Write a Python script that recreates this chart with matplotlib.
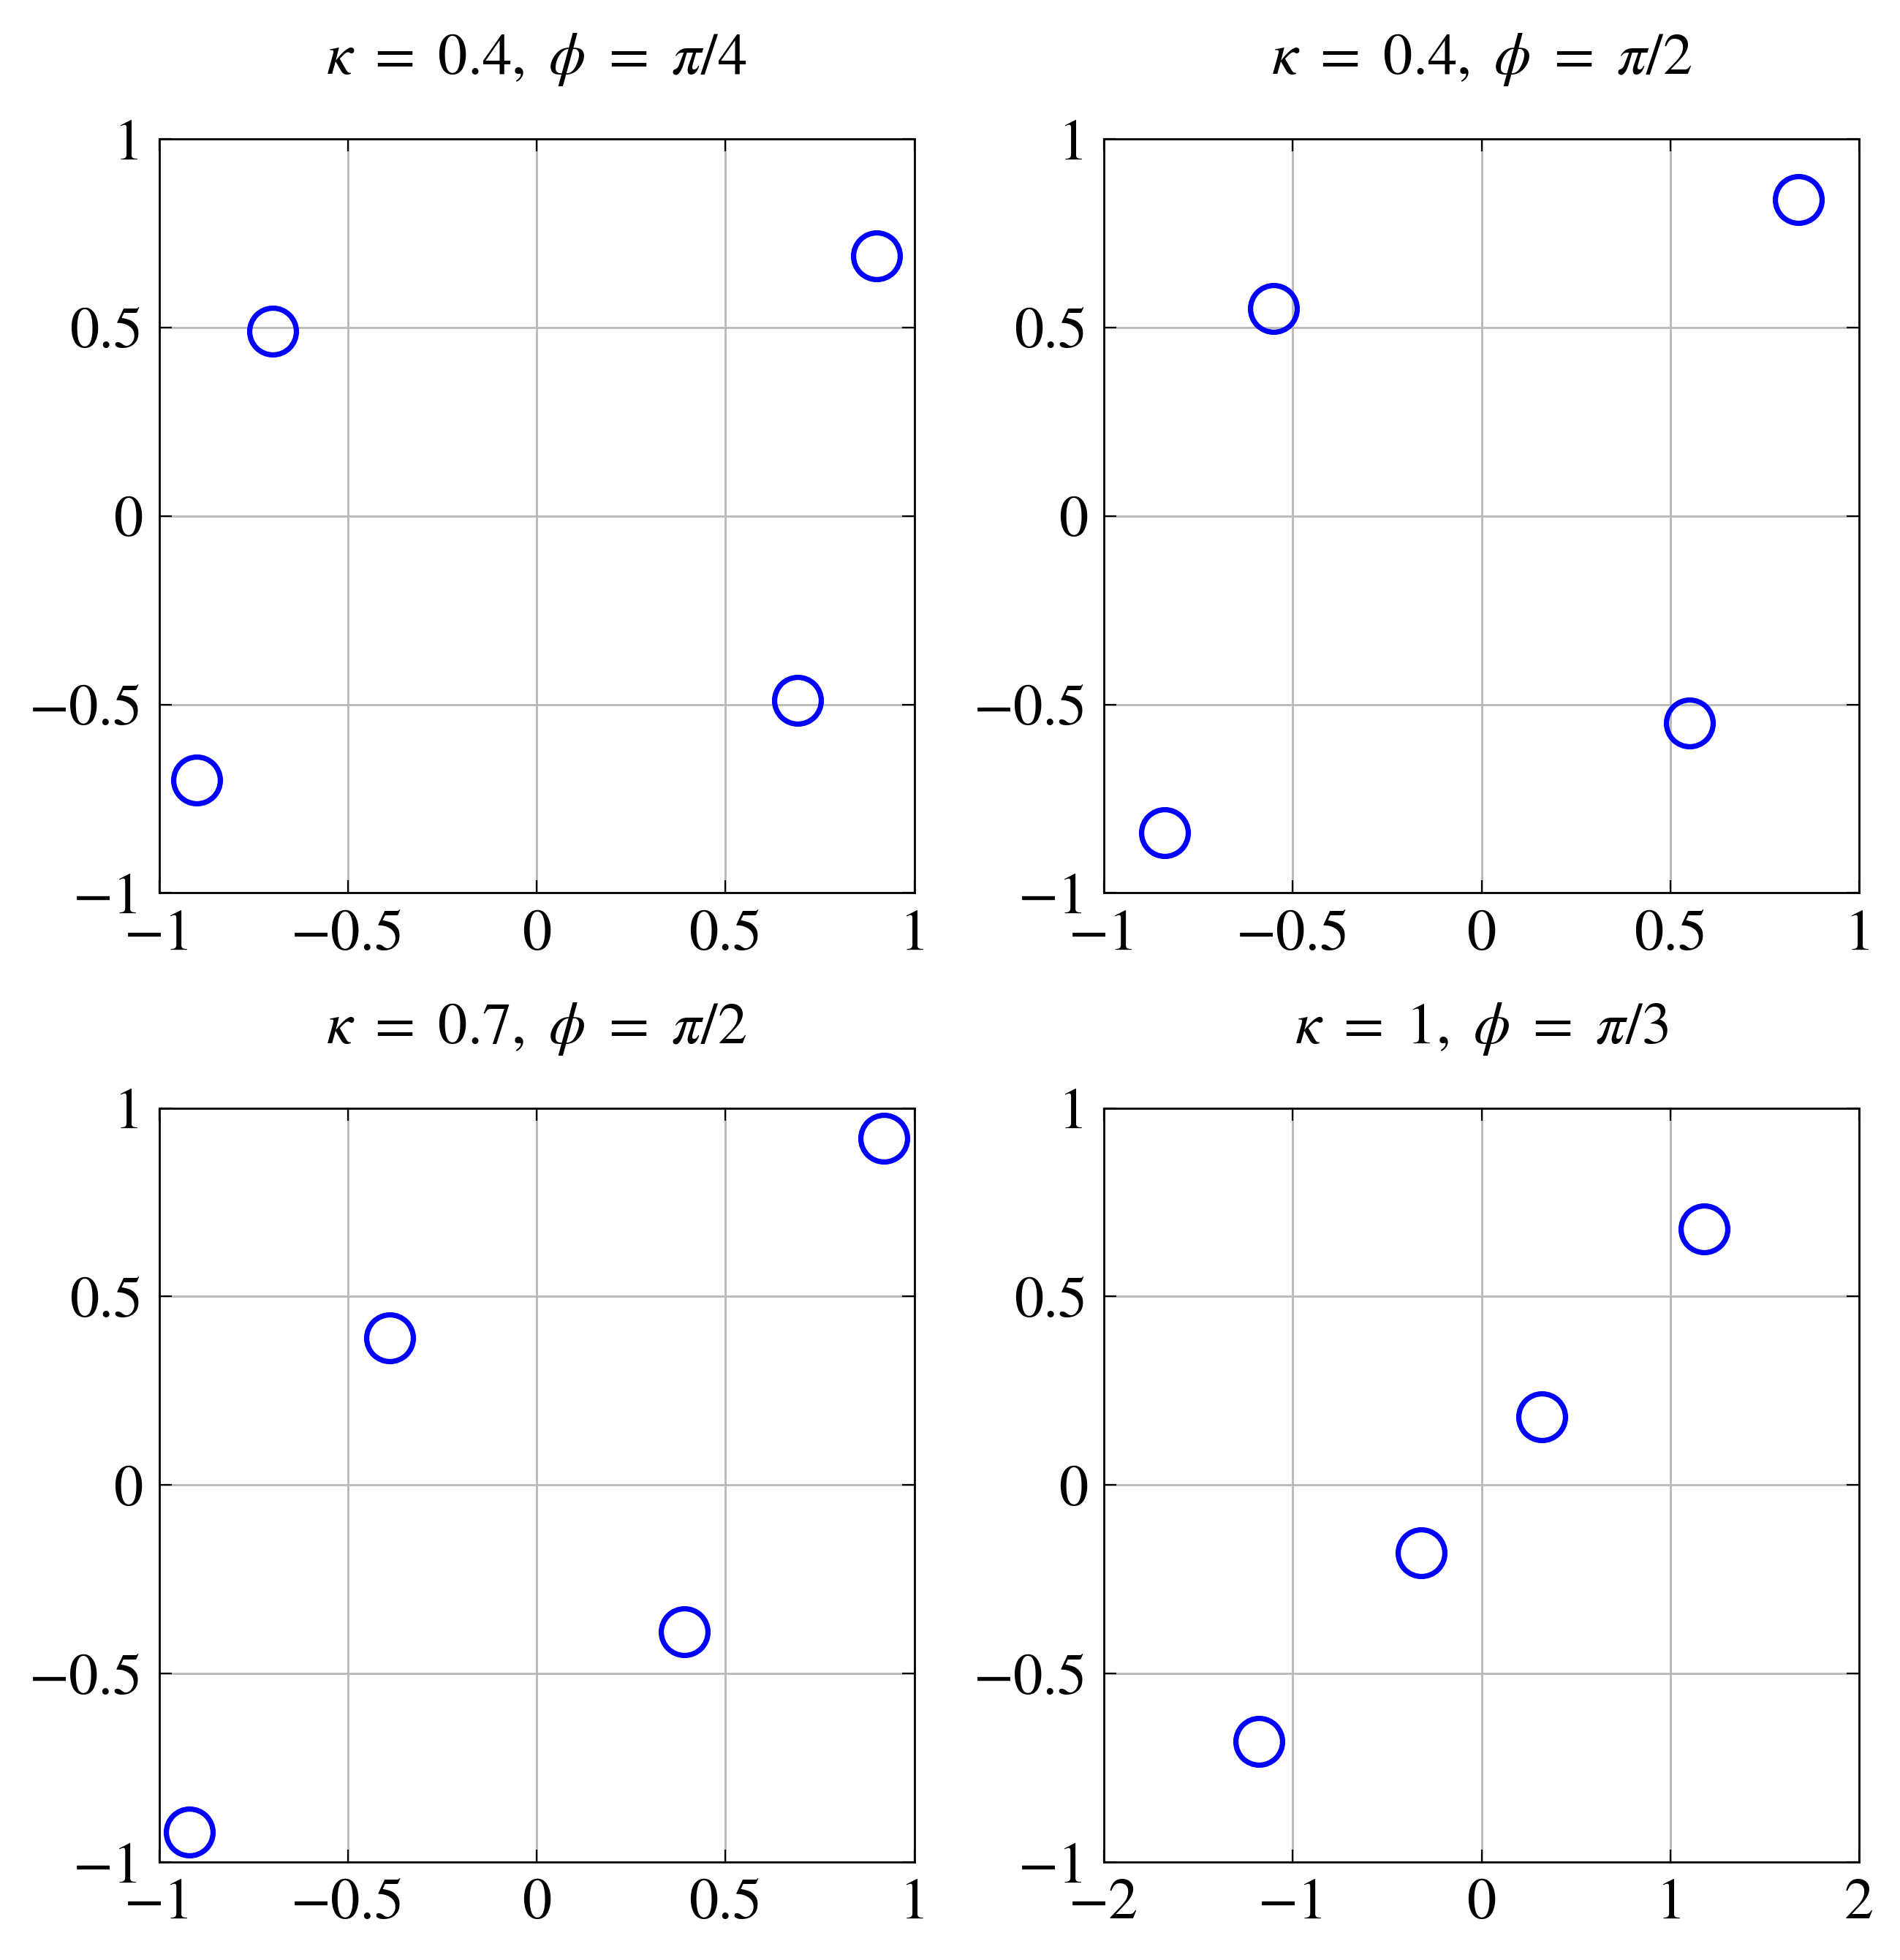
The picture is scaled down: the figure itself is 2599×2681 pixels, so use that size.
import matplotlib
matplotlib.use("Agg")
import matplotlib.pyplot as plt

plt.rcParams['mathtext.fontset'] = 'stix'
plt.rcParams['font.family'] = ['STIXGeneral', 'DejaVu Serif']
plt.rcParams['font.size'] = 28

titles = [r'$\kappa\ =\ 0.4,\ \phi\ =\ \pi/4$', r'$\kappa\ =\ 0.4,\ \phi\ =\ \pi/2$',
          r'$\kappa\ =\ 0.7,\ \phi\ =\ \pi/2$', r'$\kappa\ =\ 1,\ \phi\ =\ \pi/3$']
xs = [[-0.90, -0.70, 0.69, 0.90],
      [-0.84, -0.55, 0.55, 0.84],
      [-0.92, -0.39, 0.39, 0.92],
      [-1.18, -0.32, 0.32, 1.18]]
ys = [[-0.70, 0.49, -0.49, 0.69],
      [-0.84, 0.55, -0.55, 0.84],
      [-0.92, 0.39, -0.39, 0.92],
      [-0.68, -0.18, 0.18, 0.68]]
xlims = [(-1, 1), (-1, 1), (-1, 1), (-2, 2)]
xticks = [[-1, -0.5, 0, 0.5, 1]] * 3 + [[-2, -1, 0, 1, 2]]
xticklabels = [['−1', '−0.5', '0', '0.5', '1']] * 3 + [['−2', '−1', '0', '1', '2']]
yticks = [-1, -0.5, 0, 0.5, 1]
yticklabels = ['−1', '−0.5', '0', '0.5', '1']

fig = plt.figure(figsize=(12.995, 13.405), dpi=200)
lefts = [0.0837, 0.581, 0.0837, 0.581]
bottoms = [0.5444, 0.5444, 0.05, 0.05]
w, h = 0.3975, 0.3847
for i in range(4):
    ax = fig.add_axes([lefts[i], bottoms[i], w, h])
    ax.plot(xs[i], ys[i], 'o', ls='none', mfc='none', mec='#0000ff', ms=23, mew=2.6, clip_on=False, zorder=5)
    ax.set_xlim(*xlims[i]); ax.set_ylim(-1, 1)
    ax.set_xticks(xticks[i]); ax.set_xticklabels(xticklabels[i])
    ax.set_yticks(yticks); ax.set_yticklabels(yticklabels)
    ax.grid(True, color='#b8b8b8', lw=1.0)
    ax.tick_params(direction='in', length=6, width=0.8, top=True, right=True, labelsize=29, pad=8)
    for s in ax.spines.values():
        s.set_linewidth(1.0)
    ax.set_title(titles[i], fontsize=29, pad=32)
fig.savefig('out.png', dpi=200)
